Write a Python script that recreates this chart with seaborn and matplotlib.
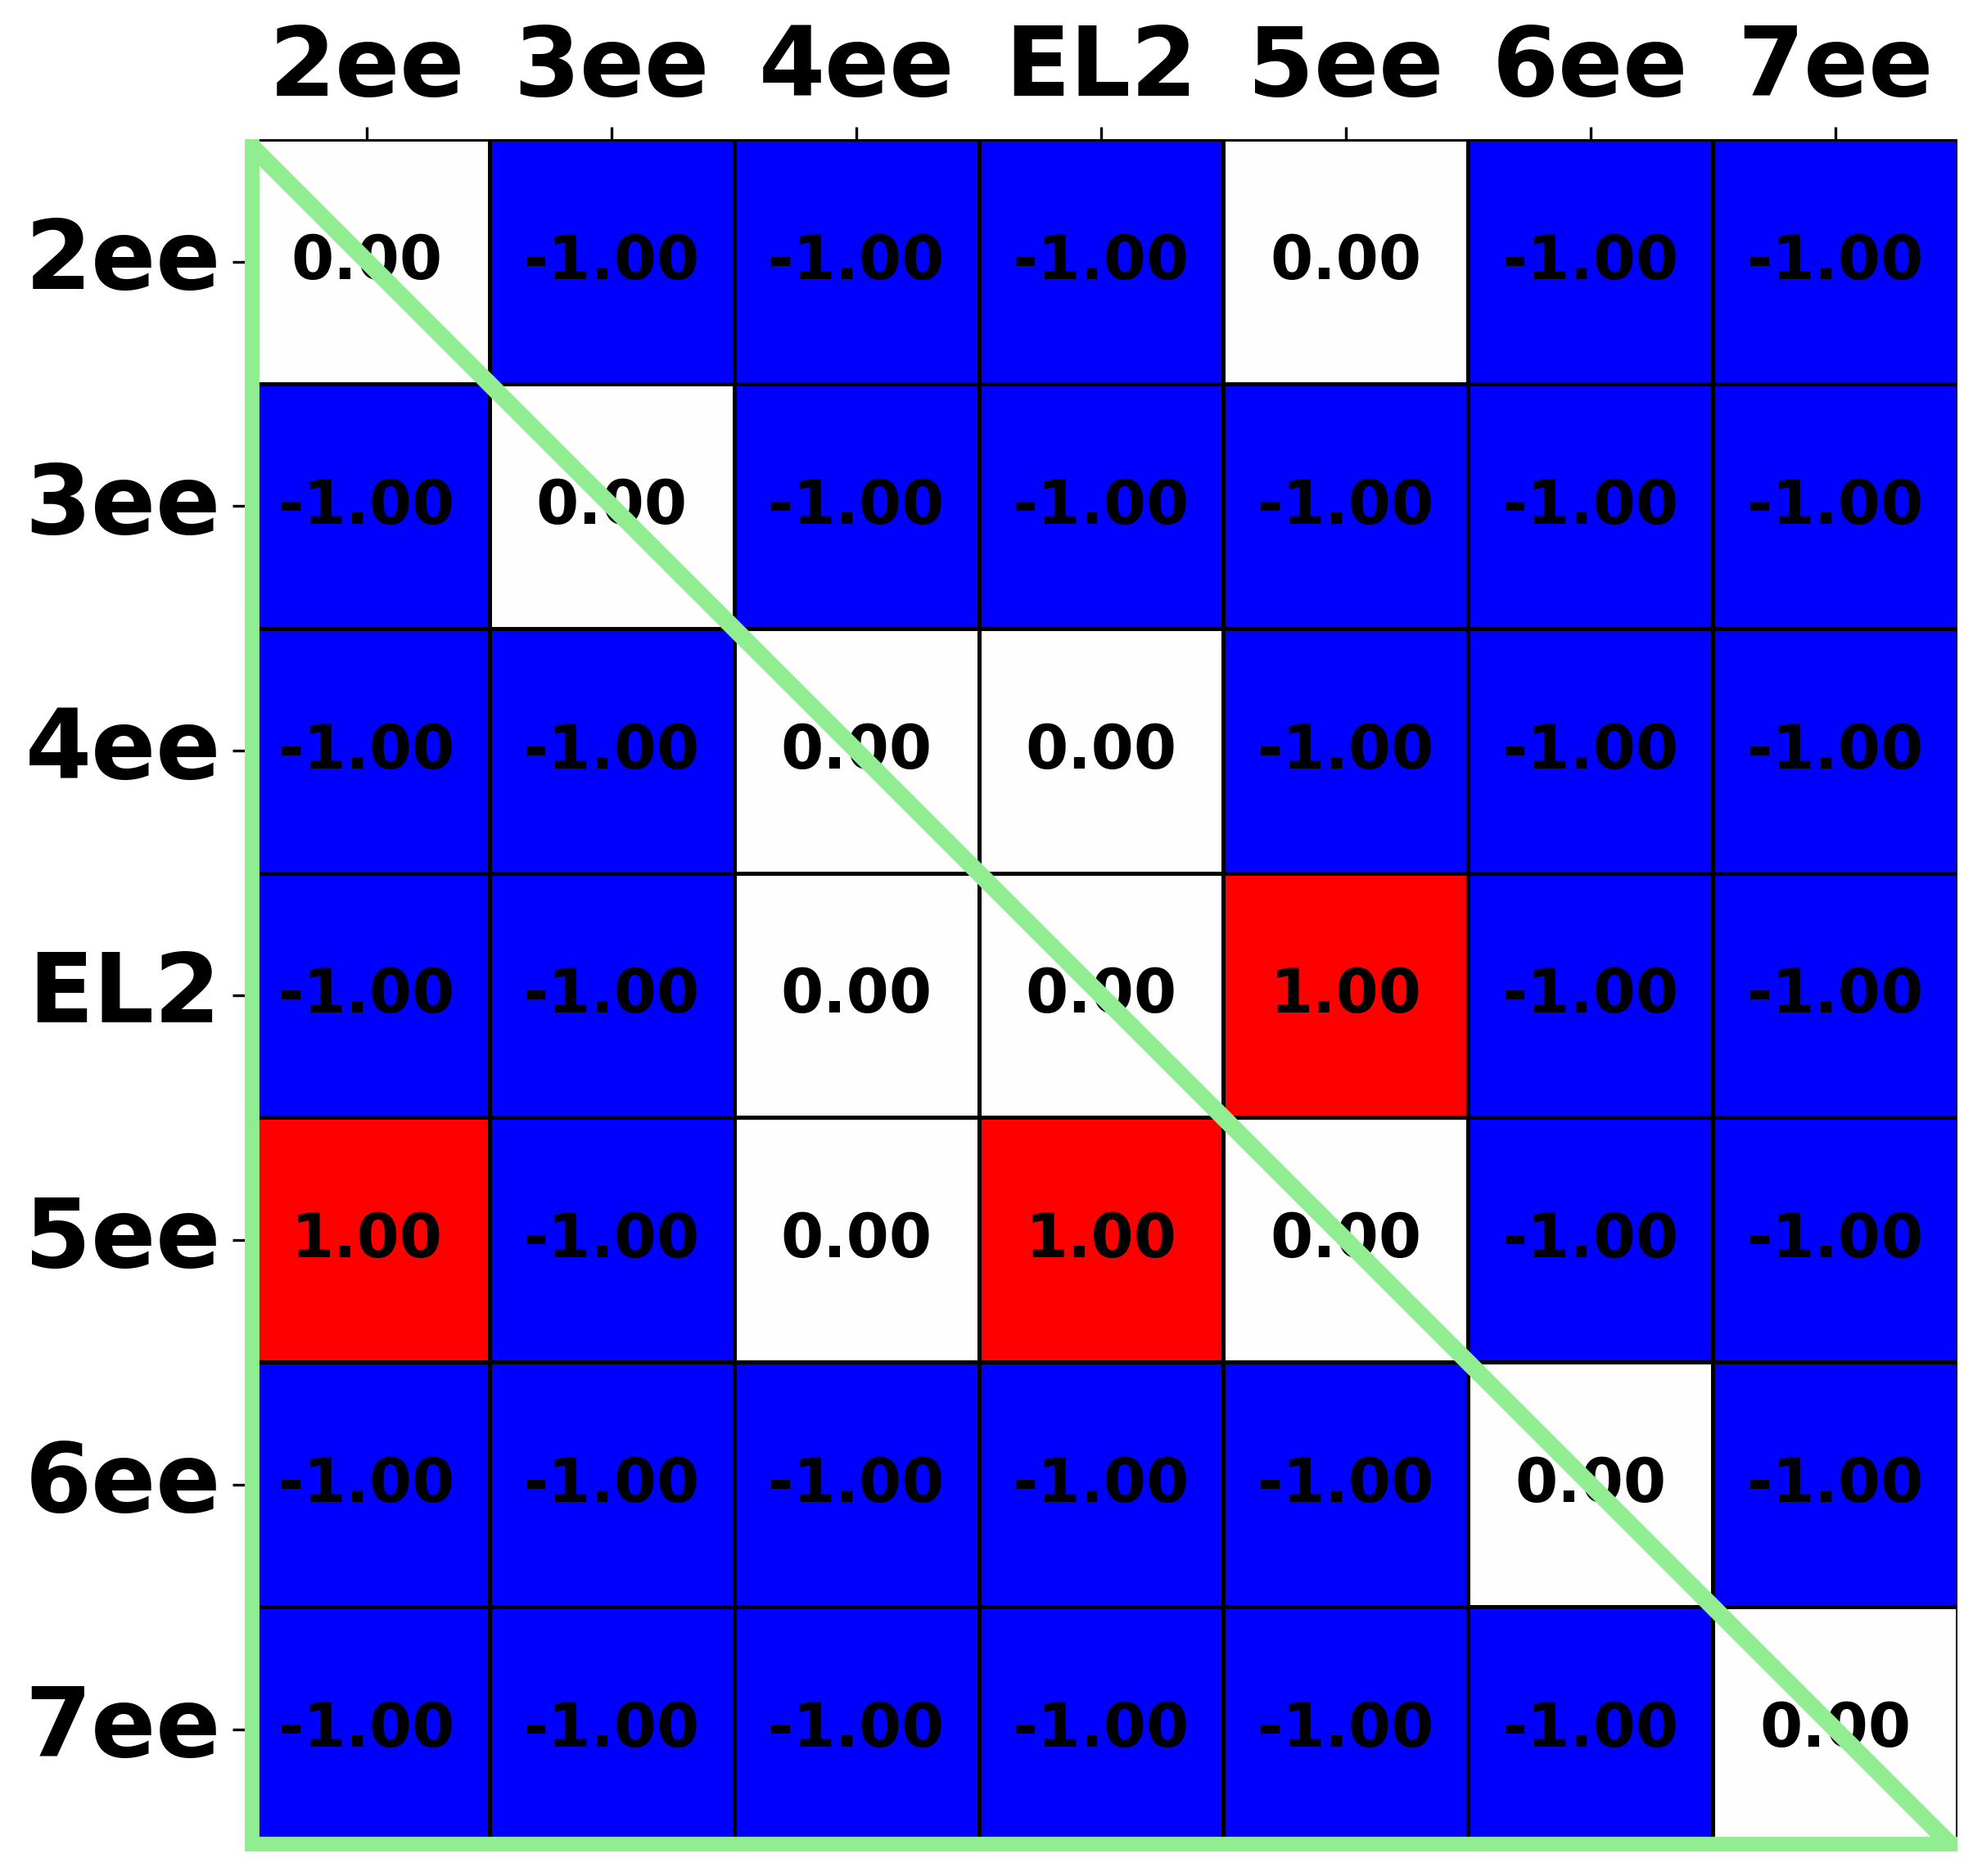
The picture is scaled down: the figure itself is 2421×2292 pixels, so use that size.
import numpy as np
import pandas as pd
import seaborn as sns
import matplotlib.pyplot as plt

# labels and matrix values
labels = ['2ee', '3ee', '4ee', 'EL2', '5ee', '6ee', '7ee']
row_2ee = [0, -1, -1, -1, 0, -1, -1]
row_3ee = [-1, 0, -1, -1, -1, -1, -1]
row_4ee = [-1, -1, 0, 0, -1, -1, -1]
row_el2 = [-1, -1, 0, 0, 1, -1, -1]
row_5ee = [1, -1, 0, 1, 0, -1, -1]
row_6ee = [-1, -1, -1, -1, -1, 0, -1]
row_7ee = [-1, -1, -1, -1, -1, -1, 0]

df = pd.DataFrame([row_2ee, row_3ee, row_4ee, row_el2, row_5ee, row_6ee, row_7ee],
                  index=labels, columns=labels, dtype=float)

fig = plt.figure(figsize=(8.07, 7.643), dpi=300)
ax = fig.add_axes([0.1235, 0.0131, 0.8641, 0.9123])

sns.heatmap(df, ax=ax, cmap='bwr', vmin=-1, vmax=1, cbar=False,
            annot=True, fmt='.2f', annot_kws={'size': 18, 'weight': 'bold', 'color': 'black'},
            linewidths=0.8, linecolor='black')

# 下三角的绿色轮廓（左边和下边被坐标轴裁剪一半）
n = len(labels)
ax.plot([0, 0, n], [0, n, n], color='lightgreen', linewidth=8.6, zorder=5)
ax.plot([0, n], [0, n], color='lightgreen', linewidth=5, zorder=5)

ax.xaxis.tick_top()
ax.xaxis.set_label_position('top')
ax.tick_params(axis='both', which='both', length=3.5, width=0.8, color='black')
ax.set_xticklabels(labels, fontsize=28, fontweight='bold', rotation=0)
ax.set_yticklabels(labels, fontsize=28, fontweight='bold', rotation=0)
ax.set_xlabel('')
ax.set_ylabel('')

fig.savefig('out.png', dpi=300)
